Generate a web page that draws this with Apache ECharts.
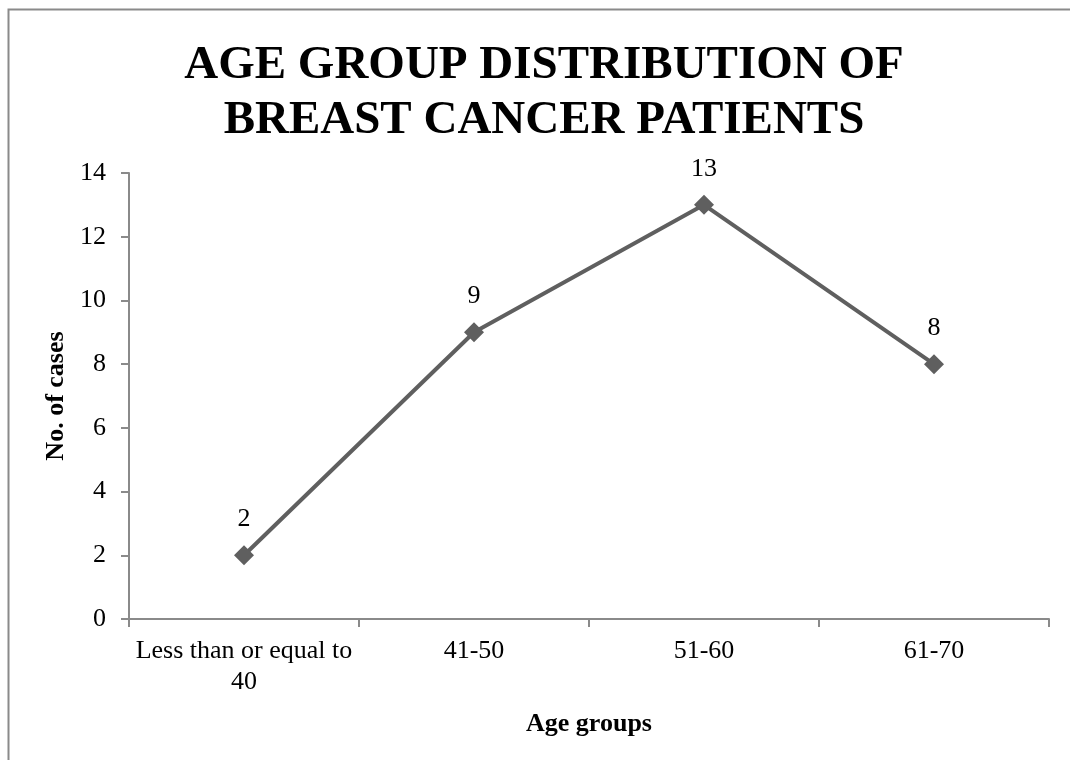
<!DOCTYPE html>
<html><head><meta charset="utf-8">
<script src="https://cdn.jsdelivr.net/npm/echarts@6/dist/echarts.min.js"></script>
<style>html,body{margin:0;padding:0;background:#fff}#c{width:1070px;height:760px}</style>
</head><body><div id="c"></div>
<script>
const categories = ['Less than or equal to\n40', '41-50', '51-60', '61-70'];
const cases = [2, 9, 13, 8];
const titleText = 'AGE GROUP DISTRIBUTION OF\nBREAST CANCER PATIENTS';
const yName = 'No. of cases';
const xName = 'Age groups';

const serif = '"Liberation Serif","Times New Roman",serif';
const chart = echarts.init(document.getElementById('c'));
chart.setOption({
  backgroundColor: '#fff',
  animation: false,
  graphic: [{
    type: 'rect', shape: {x: 8.5, y: 9.5, width: 1100, height: 800},
    style: {fill: 'none', stroke: '#8a8a8a', lineWidth: 2}
  }],
  title: {
    text: titleText, left: 539, top: 33, textAlign: 'center',
    textStyle: {fontFamily: serif, fontWeight: 'bold', fontSize: 47, lineHeight: 55, color: '#000'}
  },
  grid: {left: 129, right: 21, top: 173, bottom: 141},
  xAxis: {
    type: 'category', data: categories, boundaryGap: true,
    name: xName, nameLocation: 'middle', nameGap: 92,
    nameTextStyle: {fontFamily: serif, fontWeight: 'bold', fontSize: 26, color: '#000'},
    axisLine: {lineStyle: {color: '#8a8a8a', width: 2}},
    axisTick: {show: true, length: 8, lineStyle: {color: '#8a8a8a', width: 2}},
    axisLabel: {fontFamily: serif, fontSize: 26, color: '#000', margin: 17, lineHeight: 31, interval: 0}
  },
  yAxis: {
    type: 'value', min: 0, max: 14, interval: 2,
    name: yName, nameLocation: 'middle', nameGap: 58, nameRotate: 90,
    nameTextStyle: {fontFamily: serif, fontWeight: 'bold', fontSize: 26, color: '#000'},
    axisLine: {show: true, lineStyle: {color: '#8a8a8a', width: 2}},
    axisTick: {show: true, length: 8, lineStyle: {color: '#8a8a8a', width: 2}},
    splitLine: {show: false},
    axisLabel: {fontFamily: serif, fontSize: 26, color: '#000', margin: 23}
  },
  series: [{
    type: 'line', data: cases,
    symbol: 'diamond', symbolSize: 20,
    lineStyle: {color: '#5f5f5f', width: 4},
    itemStyle: {color: '#5f5f5f'},
    label: {show: true, position: 'top', distance: 13, fontFamily: serif, fontSize: 26, color: '#000'}
  }]
});
</script></body></html>
